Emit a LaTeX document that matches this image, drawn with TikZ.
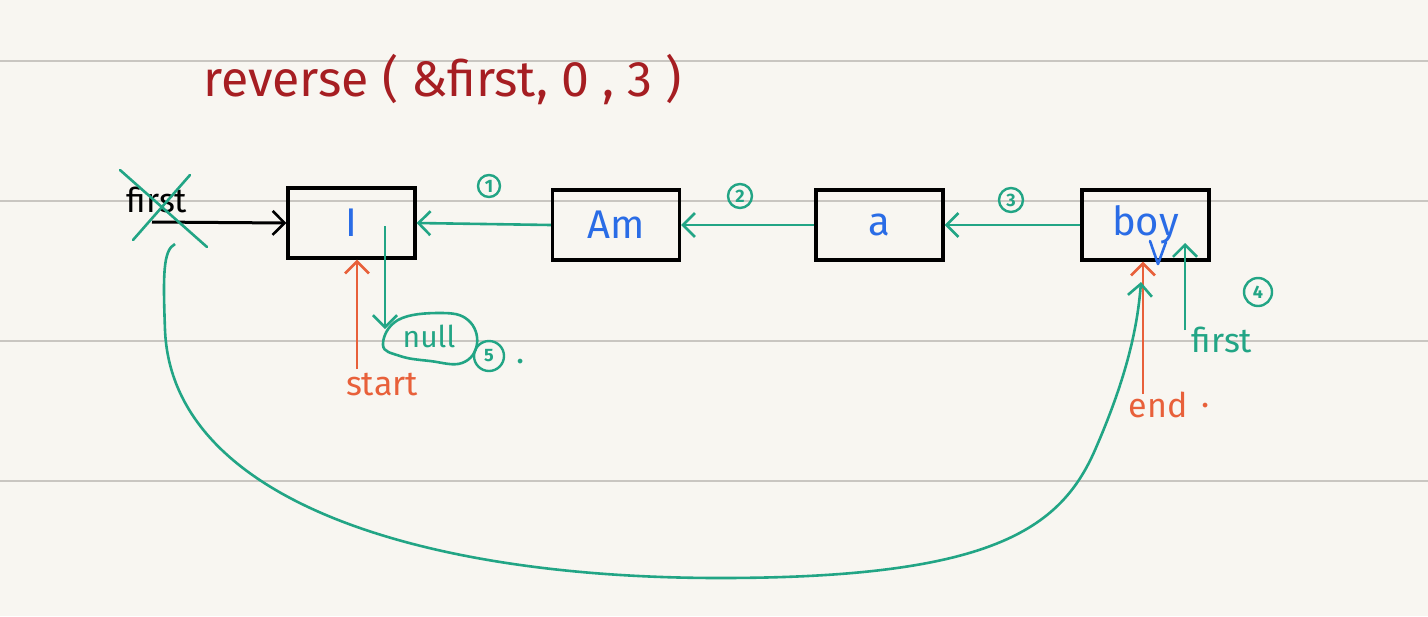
\documentclass[tikz,border=0pt]{standalone}
\usepackage{fontspec}
\setmainfont{Fira Sans}
\usetikzlibrary{arrows.meta}
\definecolor{paper}{HTML}{F8F6F1}
\definecolor{rulecol}{HTML}{C9C6C1}
\definecolor{gcol}{HTML}{22A585}
\definecolor{ocol}{HTML}{E8603A}
\definecolor{bcol}{HTML}{2A6CE6}
\definecolor{rcol}{HTML}{A61E22}
\tikzset{
  rulel/.style={draw=rulecol,line width=0.8pt},
  box/.style={draw=black,line width=1.6pt,minimum width=63.5pt,minimum height=35pt,inner sep=0pt,text=bcol,font=\fontsize{20}{22}\selectfont},
  barb/.style={-{Straight Barb[length=6pt,width=12pt,line width=1.3pt]}},
  garrow/.style={barb,draw=gcol,line width=1.3pt},
  barrow/.style={barb,draw=black,line width=1.5pt},
  oarrow/.style={barb,draw=ocol,line width=1.3pt},
  gline/.style={draw=gcol,line width=1.3pt,line cap=round},
  numc/.style={circle,draw=gcol,line width=1.2pt,text=gcol,inner sep=0pt,font=\fontsize{9}{10}\selectfont\bfseries},
  lab/.style={inner sep=0pt,font=\fontsize{17}{19}\selectfont}
}
\begin{document}
\begin{tikzpicture}[x=0.5pt,y=-0.5pt]
\fill[paper] (0,0) rectangle (1428,616);
\useasboundingbox (0,0) rectangle (1428,616);
\foreach \yy in {61,201,341,481} \draw[rulel] (0,\yy) -- (1428,\yy);

% title
\node[anchor=west,inner sep=0pt,text=rcol,font=\fontsize{25}{27}\selectfont] (title) at (203,80) {reverse ( \&first, 0 , 3 )};

% boxes
\node[box] (I) at (351.5,223) {I};
\node[box] (Am) at (616,225) {Am};
\node[box] (A) at (879.5,225) {a};
\node[box] (boy) at (1145.5,225) {boy};

% green links
\draw[garrow] (Am.west) -- (I.east);
\draw[garrow] (A.west) -- (Am.east);
\draw[garrow] (boy.west) -- (A.east);
\node[numc,minimum size=11pt] (n1) at (489,186) {1};
\node[numc,minimum size=12pt] (n2) at (740,196) {2};
\node[numc,minimum size=12pt] (n3) at (1011,200) {3};

% old first pointer
\node[lab,text=black] (first) at (157,200) {first};
\coordinate (fs) at (152,222);
\draw[barrow] (fs) -- (I.west);
\draw[gline] (120,170) -- (207,247);
\draw[gline] (190,175) -- (133,240);

% I -> null
\node[lab,text=gcol,font=\fontsize{15}{17}\selectfont] (null) at (429,336) {null};
\draw[gline] plot[smooth cycle,tension=0.7] coordinates {(383,345) (398,320) (440,313) (468,320) (477,344) (462,363) (430,361) (400,356)};
\coordinate (Id) at (385,226);
\coordinate (Ie) at (385,329);
\draw[garrow] (Id) -- (Ie);
\node[numc,minimum size=15pt] (n5) at (489,356) {5};
\node[lab,text=gcol] (dot5) at (521,362) {.};

% start pointer
\node[lab,text=ocol] (start) at (382,385) {start};
\coordinate (s0) at (357,369);
\draw[oarrow] (s0) -- (s0 |- I.south);

% end pointer
\node[lab,text=ocol] (end) at (1158,405) {end};
\node[lab,text=ocol] (dote) at (1206,406) {.};
\coordinate (e0) at (1143,394);
\draw[oarrow] (e0) -- (e0 |- boy.south);

% new first pointer
\node[lab,text=gcol] (first2) at (1222,340) {first};
\coordinate (f0) at (1185,330);
\coordinate (f1) at (1185,243);
\draw[garrow] (f0) -- (f1);
\node[numc,minimum size=14pt] (n4) at (1258,292) {4};

% blue check under boy
\draw[draw=bcol,line width=1.3pt,line cap=round,line join=round] (1150,241) -- (1158,264) -- (1166,242);

% big curve
\coordinate (c0) at (175,244);
\coordinate (c1) at (1141,282);
\draw[garrow] (c0) .. controls (163,250) and (163,275) .. (165,330)
  .. controls (172,500) and (420,578) .. (720,578)
  .. controls (990,578) and (1060,530) .. (1095,450)
  .. controls (1130,370) and (1138,320) .. (c1);
\end{tikzpicture}
\end{document}
